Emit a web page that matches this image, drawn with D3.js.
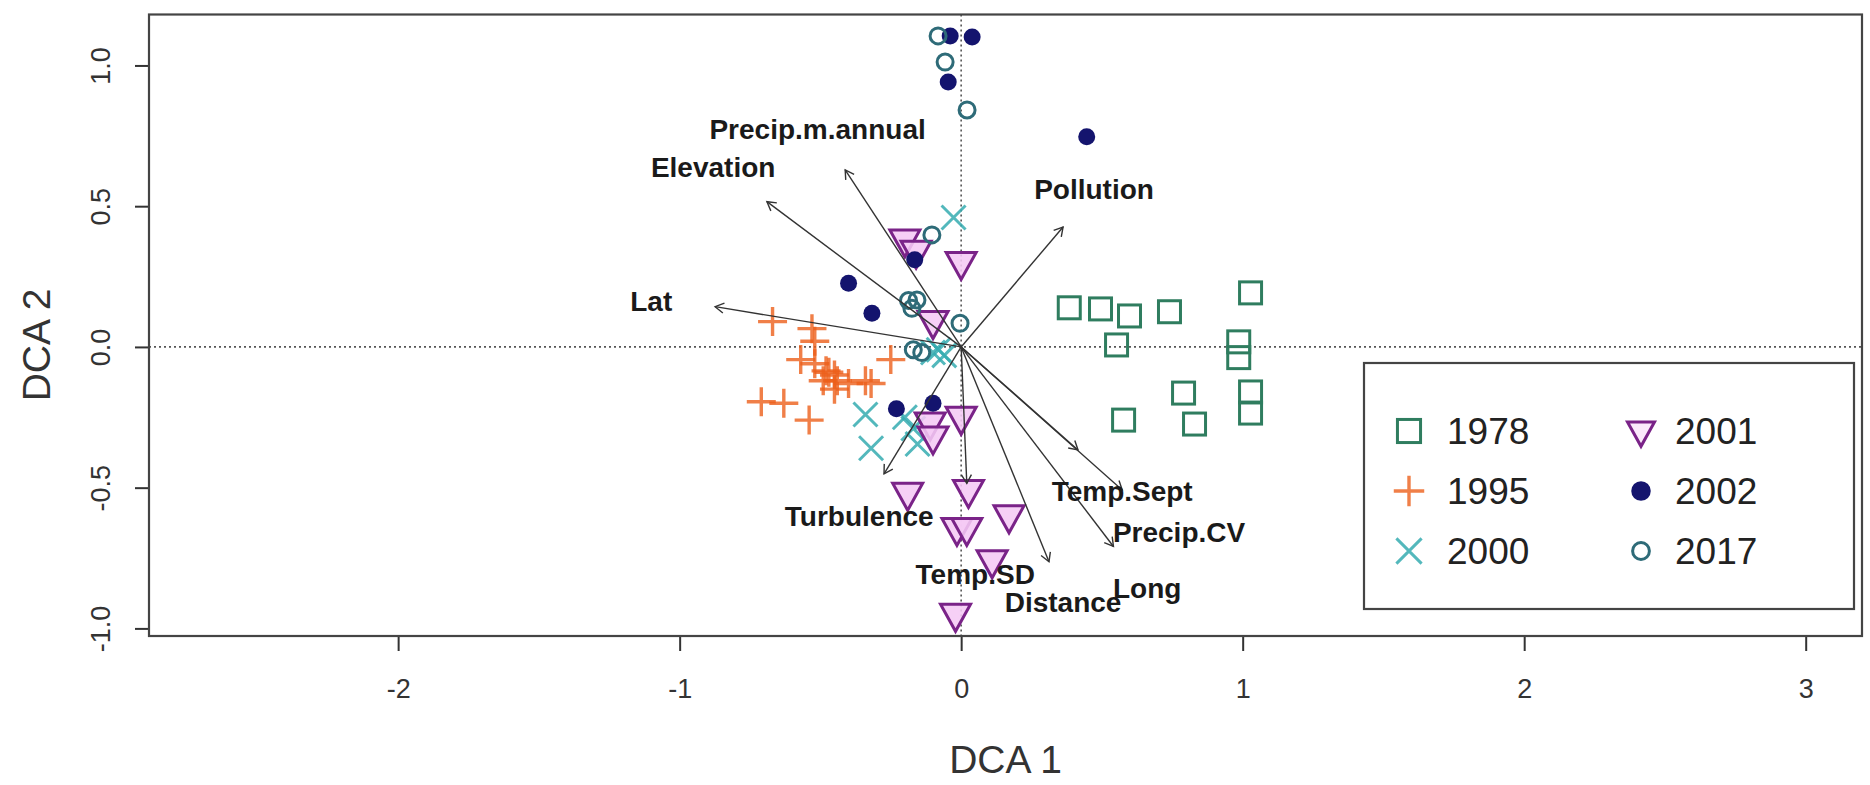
<!DOCTYPE html>
<html>
<head>
<meta charset="utf-8">
<script src="https://cdn.jsdelivr.net/npm/d3@7"></script>
<style>
  html, body { margin: 0; padding: 0; background: #fff; }
  svg { display: block; }
  text { font-family: "Liberation Sans", Arial, Helvetica, sans-serif; }
</style>
</head>
<body>
<svg id="chart" width="1870" height="785"></svg>
<script>
// ---- axis ticks ----
const xTicks = [-2, -1, 0, 1, 2, 3];
const xTickLabels = ["-2", "-1", "0", "1", "2", "3"];
const yTicks = [-1, -0.5, 0, 0.5, 1];
const yTickLabels = ["-1.0", "-0.5", "0.0", "0.5", "1.0"];

// ---- site scores (DCA1, DCA2) by survey year ----
const years = ["1978", "1995", "2000", "2001", "2002", "2017"];
const pts1978 = [[0.384,0.139],[0.495,0.135],[0.598,0.110],[0.552,0.007],[0.740,0.125],[1.028,0.192],
                 [0.986,0.018],[0.986,-0.038],[0.790,-0.164],[0.577,-0.260],[0.829,-0.274],[1.028,-0.160],[1.028,-0.235]];
const pts1995 = [[-0.67,0.09],[-0.53,0.065],[-0.52,0.02],[-0.57,-0.045],[-0.52,-0.06],[-0.48,-0.085],
                 [-0.45,-0.10],[-0.49,-0.12],[-0.47,-0.09],[-0.45,-0.15],[-0.44,-0.12],[-0.40,-0.13],
                 [-0.34,-0.12],[-0.32,-0.13],[-0.25,-0.045],[-0.71,-0.195],[-0.63,-0.20],[-0.54,-0.26]];
const pts2000 = [[-0.027,0.46],[-0.10,-0.02],[-0.06,-0.03],[-0.08,-0.01],[-0.34,-0.24],[-0.32,-0.36],
                 [-0.20,-0.25],[-0.17,-0.29],[-0.155,-0.345]];
const pts2001 = [[-0.20,0.38],[-0.16,0.34],[0.0,0.30],[-0.10,0.09],[0.0,-0.25],[-0.11,-0.27],[-0.10,-0.32],
                 [-0.19,-0.52],[0.026,-0.51],[0.17,-0.60],[-0.015,-0.645],[0.02,-0.645],[0.11,-0.76],[-0.02,-0.95]];
const pts2002 = [[-0.039,1.105],[0.039,1.101],[-0.046,0.941],[0.446,0.747],[-0.165,0.31],[-0.40,0.226],
                 [-0.317,0.12],[-0.23,-0.22],[-0.10,-0.20]];
const pts2017 = [[-0.082,1.105],[-0.057,1.012],[0.021,0.842],[-0.104,0.398],[-0.187,0.165],[-0.157,0.167],
                 [-0.175,0.137],[-0.004,0.084],[-0.17,-0.01],[-0.14,-0.02]];

// ---- fitted environmental vectors ----
const envVars   = ["Lat","Elevation","Precip.m.annual","Pollution","Turbulence","Temp.SD","Distance","Long","Precip.CV","Temp.Sept"];
const envArrowX = [-0.874, -0.690, -0.412, 0.362, -0.274, 0.020, 0.312, 0.541, 0.572, 0.415];
const envArrowY = [ 0.143,  0.516,  0.629, 0.426, -0.451, -0.485, -0.763, -0.709, -0.508, -0.366];
const envLabelX = [-1.101, -0.881, -0.510, 0.472, -0.362, 0.050, 0.362, 0.661, 0.774, 0.572];
const envLabelY = [ 0.160,  0.639,  0.771, 0.561, -0.604, -0.810, -0.909, -0.860, -0.661, -0.512];

// ---- layout ----
const W = 1870, H = 785;
const L = 149, R = 1862, T = 14.5, B = 636;
const svg = d3.select("#chart");
svg.append("rect").attr("width", W).attr("height", H).attr("fill", "#fff");

const x = d3.scaleLinear().domain([-2.885, 3.2]).range([L, R]);
const y = d3.scaleLinear().domain([-1.027, 1.181]).range([B, T]);

// ---- axes ----
const xAxis = d3.axisBottom(x).tickValues(xTicks).tickSize(15).tickPadding(28)
  .tickFormat(d => xTickLabels[xTicks.indexOf(d)]);
const gx = svg.append("g").attr("transform", `translate(0,${B})`).call(xAxis);
gx.select(".domain").remove();
gx.selectAll(".tick line").attr("stroke", "#333").attr("stroke-width", 2);
gx.selectAll(".tick text").attr("font-size", 27).attr("fill", "#333")
  .attr("font-family", "Liberation Sans, Arial, sans-serif");

const yAxis = d3.axisLeft(y).tickValues(yTicks).tickSize(14)
  .tickFormat(d => yTickLabels[yTicks.indexOf(d)]);
const gy = svg.append("g").attr("transform", `translate(${L},0)`).call(yAxis);
gy.select(".domain").remove();
gy.selectAll(".tick line").attr("stroke", "#333").attr("stroke-width", 2);
gy.selectAll(".tick text").attr("x", null).attr("dy", null)
  .attr("text-anchor", "middle").attr("dominant-baseline", "central")
  .attr("transform", "translate(-48,0) rotate(-90)")
  .attr("font-size", 27).attr("fill", "#333")
  .attr("font-family", "Liberation Sans, Arial, sans-serif");

// axis titles
svg.append("text").attr("x", (L + R) / 2).attr("y", 773).attr("text-anchor", "middle")
  .attr("font-size", 39).attr("fill", "#333").text("DCA 1");
svg.append("text").attr("transform", `translate(50,345) rotate(-90)`).attr("text-anchor", "middle")
  .attr("font-size", 39).attr("fill", "#333").text("DCA 2");

// ---- dotted zero lines ----
const plot = svg.append("g");
plot.append("line").attr("x1", L).attr("x2", R).attr("y1", y(0)).attr("y2", y(0))
  .attr("stroke", "#555").attr("stroke-width", 1.6).attr("stroke-dasharray", "2,3");
plot.append("line").attr("x1", x(0)).attr("x2", x(0)).attr("y1", T).attr("y2", B)
  .attr("stroke", "#555").attr("stroke-width", 1.6).attr("stroke-dasharray", "2,3");

// ---- symbol drawers ----
const styles = {
  "1978": { stroke: "#2f7d5f" },
  "1995": { stroke: "#ec5f1a" },
  "2000": { stroke: "#35abb0" },
  "2001": { stroke: "#7a2388", fill: "#f5c9f5" },
  "2002": { fill: "#14146e" },
  "2017": { stroke: "#2e6b78" }
};

function drawSymbol(g, year, cx, cy, s = 1, legend = false) {
  const st = styles[year];
  if (year === "1978") {
    const h = 11 * s;
    g.append("rect").attr("x", cx - h).attr("y", cy - h).attr("width", 2 * h).attr("height", 2 * h)
      .attr("fill", "none").attr("stroke", st.stroke).attr("stroke-width", 3);
  } else if (year === "1995") {
    const h = 14.5 * s;
    g.append("path").attr("d", `M${cx - h},${cy}H${cx + h}M${cx},${cy - h}V${cy + h}`)
      .attr("stroke", st.stroke).attr("stroke-width", 3.4).attr("stroke-opacity", 0.8).attr("fill", "none");
  } else if (year === "2000") {
    const h = 12 * s;
    g.append("path").attr("d", `M${cx - h},${cy - h}L${cx + h},${cy + h}M${cx - h},${cy + h}L${cx + h},${cy - h}`)
      .attr("stroke", st.stroke).attr("stroke-width", 3).attr("stroke-opacity", 0.85).attr("fill", "none");
  } else if (year === "2001") {
    const w = 15 * s, up = 10 * s, dn = 17 * s;
    g.append("path").attr("d", `M${cx - w},${cy - up}L${cx + w},${cy - up}L${cx},${cy + dn}Z`)
      .attr("fill", legend ? "#fbe6fb" : st.fill).attr("fill-opacity", 0.88)
      .attr("stroke", st.stroke).attr("stroke-width", 3).attr("stroke-linejoin", "miter");
  } else if (year === "2002") {
    g.append("circle").attr("cx", cx).attr("cy", cy).attr("r", 8.5 * s).attr("fill", st.fill);
  } else if (year === "2017") {
    g.append("circle").attr("cx", cx).attr("cy", cy).attr("r", 8 * s)
      .attr("fill", "none").attr("stroke", st.stroke).attr("stroke-width", 3);
  }
}

// ---- site points ----
const groups = { "1978": pts1978, "1995": pts1995, "2000": pts2000, "2001": pts2001, "2002": pts2002, "2017": pts2017 };
const gPts = svg.append("g");
years.forEach(yr => {
  groups[yr].forEach(p => drawSymbol(gPts, yr, x(p[0]), y(p[1])));
});

// ---- environmental arrows ----
const gArr = svg.append("g");
const ox = x(0), oy = y(0);
envVars.forEach((v, i) => {
  const tx = x(envArrowX[i]), ty = y(envArrowY[i]);
  gArr.append("line").attr("x1", ox).attr("y1", oy).attr("x2", tx).attr("y2", ty)
    .attr("stroke", "#333").attr("stroke-width", 1.4);
  const a = Math.atan2(ty - oy, tx - ox), len = 10, sp = Math.PI / 6;
  const p1 = [tx - len * Math.cos(a - sp), ty - len * Math.sin(a - sp)];
  const p2 = [tx - len * Math.cos(a + sp), ty - len * Math.sin(a + sp)];
  gArr.append("path").attr("d", `M${p1[0]},${p1[1]}L${tx},${ty}L${p2[0]},${p2[1]}`)
    .attr("fill", "none").attr("stroke", "#333").attr("stroke-width", 1.4);
  gArr.append("text").attr("x", x(envLabelX[i])).attr("y", y(envLabelY[i]))
    .attr("text-anchor", "middle").attr("dominant-baseline", "central")
    .attr("font-size", 28).attr("font-weight", "bold").attr("fill", "#1a1a1a").text(v);
});

// ---- plot frame ----
svg.append("rect").attr("x", L).attr("y", T).attr("width", R - L).attr("height", B - T)
  .attr("fill", "none").attr("stroke", "#444").attr("stroke-width", 2.2);

// ---- legend ----
const gLeg = svg.append("g");
gLeg.append("rect").attr("x", 1364).attr("y", 363).attr("width", 1854 - 1364).attr("height", 609 - 363)
  .attr("fill", "#fff").attr("stroke", "#444").attr("stroke-width", 2.2);
const legCols = [1409, 1641], legText = [1447, 1675], legRows = [431, 491, 551];
const legScale = { "1978": 1.05, "1995": 1.05, "2000": 1.05, "2001": 0.9, "2002": 1.15, "2017": 1.05 };
years.forEach((yr, i) => {
  const c = Math.floor(i / 3), r = i % 3;
  drawSymbol(gLeg, yr, legCols[c], legRows[r], legScale[yr], true);
  gLeg.append("text").attr("x", legText[c]).attr("y", legRows[r]).attr("dominant-baseline", "central")
    .attr("font-size", 37).attr("fill", "#222").text(yr);
});
</script>
</body>
</html>
